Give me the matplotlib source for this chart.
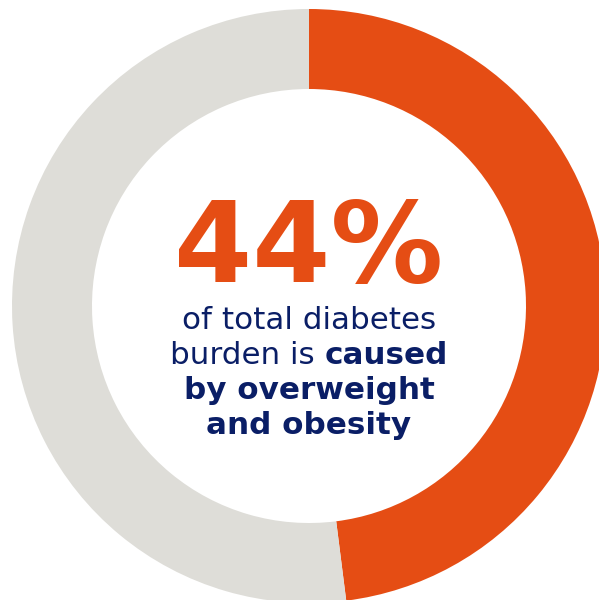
import matplotlib
matplotlib.use("Agg")
import matplotlib.pyplot as plt

# ring shares as drawn (orange part, grey rest)
shares = [48, 52]
ring_colors = ["#E54D14", "#DEDDD8"]

headline = "44%"
line_1 = "of total diabetes"
line_2_normal = "burden is "
line_2_bold = "caused"
line_3 = "by overweight"
line_4 = "and obesity"

orange = "#E54D14"
navy = "#0A1E66"

W, H = 599, 600
fig = plt.figure(figsize=(W / 100, H / 100), dpi=100)
ax = fig.add_axes([0, 0, 1, 1])
ax.set_xlim(0, W)
ax.set_ylim(0, H)
ax.set_aspect("equal")
ax.axis("off")

cx, cy = 309, H - 306
ax.pie(shares, colors=ring_colors, startangle=90, counterclock=False,
       center=(cx, cy), radius=297,
       wedgeprops=dict(width=80, linewidth=0))
ax.set_xlim(0, W)
ax.set_ylim(0, H)

ax.text(cx, H - 282, headline, ha="center", va="baseline",
        fontsize=81, fontweight="bold", color=orange)

fs = 22.3
ax.text(cx, H - 329, line_1, ha="center", va="baseline",
        fontsize=fs, color=navy)

# mixed-weight second line: measure then place side by side
r = fig.canvas.get_renderer()
t1 = ax.text(0, H - 364, line_2_normal, ha="left", va="baseline",
             fontsize=fs, color=navy)
t2 = ax.text(0, H - 364, line_2_bold, ha="left", va="baseline",
             fontsize=fs, fontweight="bold", color=navy)
w1 = t1.get_window_extent(r).width
w2 = t2.get_window_extent(r).width
x0 = cx - (w1 + w2) / 2
t1.set_x(x0)
t2.set_x(x0 + w1)

ax.text(cx, H - 399, line_3, ha="center", va="baseline",
        fontsize=fs, fontweight="bold", color=navy)
ax.text(cx, H - 434, line_4, ha="center", va="baseline",
        fontsize=fs, fontweight="bold", color=navy)

fig.savefig("out.png", dpi=100, facecolor="white")
